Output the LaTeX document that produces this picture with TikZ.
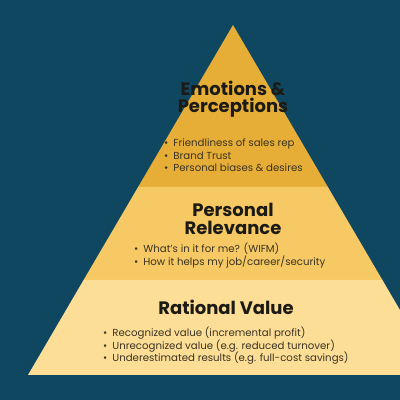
\documentclass[tikz,border=0pt]{standalone}
\usepackage{fontspec}
\setmainfont{Poppins}
\definecolor{bg}{HTML}{0F4761}
\definecolor{bandtop}{HTML}{E6AE37}
\definecolor{bandmid}{HTML}{F6C964}
\definecolor{bandbot}{HTML}{FDDE97}
\definecolor{ink}{HTML}{1C1A14}
\definecolor{bink}{HTML}{3A3322}
\newcommand{\bul}{\textbullet\hspace{5pt}}
\begin{document}
\begin{tikzpicture}[x=1pt,y=1pt,
  title/.style={font=\bfseries\fontsize{18}{17.5}\selectfont, text=ink, align=center, inner sep=0pt},
  blist/.style={font=\fontsize{10.2}{12.4}\selectfont, text=bink, align=left, anchor=north west, inner sep=0pt}]
\clip (0,0) rectangle (400,400);
\fill[bg] (0,0) rectangle (400,400);
% bands
\fill[bandtop] (233,375) -- (138.1,213) -- (327.9,213) -- cycle;
\fill[bandmid] (138.1,213) -- (83.6,120) -- (382.4,120) -- (327.9,213) -- cycle;
\fill[bandbot] (83.6,120) -- (28,25) -- (438,25) -- (382.4,120) -- cycle;
% titles
\node[title] (t1) at (233,301) {Emotions \&\\Perceptions};
\node[title] (t2) at (233,181) {Personal\\Relevance};
\node[title] (t3) at (226,93) {Rational Value};
% bullets
\node[blist] (b1) at (164,261) {\bul Friendliness of sales rep\\ \bul Brand Trust\\ \bul Personal biases \& desires};
\node[blist] (b2) at (134,157) {\bul What's in it for me? (WIFM)\\ \bul How it helps my job/career/security};
\node[blist] (b3) at (103,73) {\bul Recognized value (incremental profit)\\ \bul Unrecognized value (e.g. reduced turnover)\\ \bul Underestimated results (e.g. full-cost savings)};
\end{tikzpicture}
\end{document}
